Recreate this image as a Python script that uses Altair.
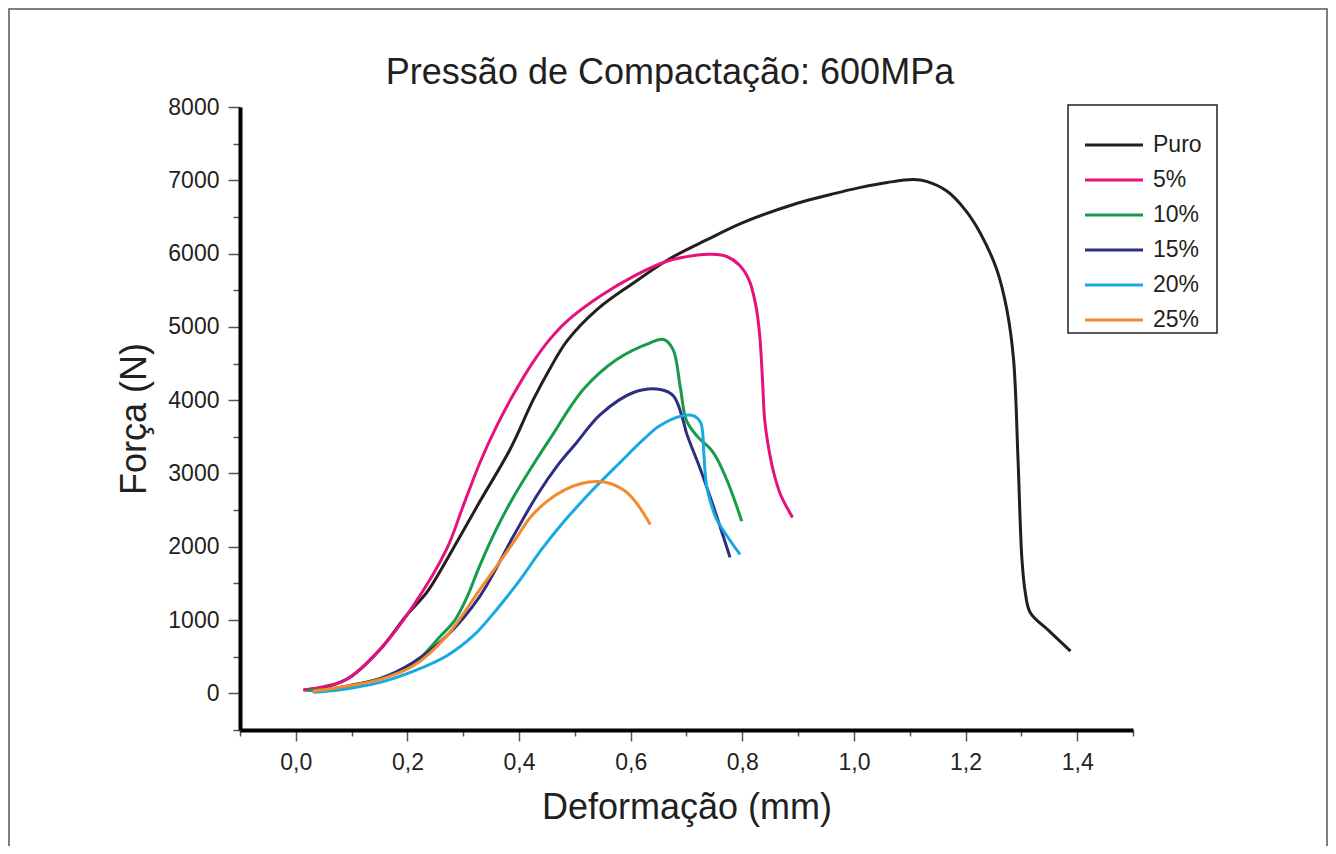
import altair as alt
import pandas as pd

# ---- data ----
series_names = ["Puro", "5%", "10%", "15%", "20%", "25%"]
series_colors = ["#231f20", "#e5127d", "#169b4b", "#2b2e83", "#17a9e1", "#f58a2a"]
chart_title = ["Pressão de Compactação: 600MPa"]

puro_x = [0.015, 0.06, 0.10, 0.15, 0.20, 0.235, 0.28, 0.33, 0.384, 0.425, 0.456, 0.486, 0.54, 0.605,
          0.67, 0.737, 0.80, 0.90, 0.96, 1.01, 1.06, 1.106, 1.13, 1.167, 1.20, 1.226, 1.256, 1.274, 1.286,
          1.294, 1.301, 1.307, 1.316, 1.35, 1.388]
puro_y = [45, 100, 235, 590, 1080, 1380, 1950, 2620, 3330, 4000, 4440, 4810, 5240, 5600,
          5930, 6190, 6420, 6690, 6810, 6900, 6970, 7010, 6985, 6850, 6590, 6285, 5780, 5235, 4555,
          3190, 1830, 1375, 1100, 850, 577]

p5_x = [0.013, 0.05, 0.091, 0.151, 0.21, 0.27, 0.30, 0.33, 0.36, 0.39, 0.425, 0.455, 0.486, 0.545, 0.605,
        0.665, 0.72, 0.745, 0.772, 0.795, 0.812, 0.824, 0.831, 0.836, 0.84, 0.846, 0.856, 0.868, 0.89]
p5_y = [45, 90, 190, 600, 1190, 1964, 2560, 3150, 3650, 4080, 4520, 4830, 5080, 5418, 5690,
        5895, 5980, 5990, 5960, 5840, 5640, 5300, 4900, 4300, 3737, 3400, 3020, 2720, 2400]

p10_x = [0.02, 0.06, 0.10, 0.15, 0.21, 0.259, 0.285, 0.306, 0.33, 0.36, 0.39, 0.432, 0.456, 0.515, 0.575,
         0.635, 0.659, 0.676, 0.689, 0.70, 0.719, 0.748, 0.772, 0.799]
p10_y = [40, 60, 110, 200, 400, 780, 1000, 1300, 1750, 2250, 2680, 3200, 3480, 4146, 4555,
         4783, 4828, 4690, 4170, 3720, 3510, 3286, 2918, 2350]

p15_x = [0.03, 0.06, 0.10, 0.151, 0.21, 0.27, 0.33, 0.39, 0.432, 0.47, 0.503, 0.545, 0.605, 0.653,
         0.677, 0.695, 0.70, 0.725, 0.748, 0.778]
p15_y = [30, 50, 110, 200, 420, 780, 1327, 2146, 2700, 3120, 3420, 3800, 4105, 4146,
         4055, 3695, 3550, 3055, 2555, 1855]

p20_x = [0.031, 0.08, 0.151, 0.21, 0.27, 0.32, 0.36, 0.40, 0.44, 0.48, 0.53, 0.581, 0.623, 0.65,
         0.69, 0.712, 0.725, 0.729, 0.731, 0.736, 0.745, 0.754, 0.775, 0.796]
p20_y = [15, 50, 150, 300, 510, 800, 1145, 1530, 1960, 2340, 2760, 3150, 3464, 3640,
         3782, 3790, 3700, 3550, 3286, 2828, 2560, 2373, 2120, 1895]

p25_x = [0.03, 0.06, 0.10, 0.151, 0.21, 0.27, 0.33, 0.39, 0.42, 0.45, 0.48, 0.51, 0.54, 0.565,
         0.59, 0.61, 0.635]
p25_y = [30, 60, 110, 190, 372, 780, 1418, 2060, 2400, 2620, 2770, 2860, 2890, 2860,
         2760, 2600, 2305]

x_ticks = [round(-0.1 + 0.1 * i, 1) for i in range(17)]
y_ticks = [-500 + 500 * i for i in range(18)]

# ---- build table ----
rows = []
for name, xs, ys in zip(series_names,
                        [puro_x, p5_x, p10_x, p15_x, p20_x, p25_x],
                        [puro_y, p5_y, p10_y, p15_y, p20_y, p25_y]):
    for i, (xv, yv) in enumerate(zip(xs, ys)):
        rows.append({"series": name, "x": xv, "y": yv, "i": i})
df = pd.DataFrame(rows)
legend_df = pd.DataFrame({"series": series_names})
title_df = pd.DataFrame({"t": chart_title})

FONT = "Liberation Sans"
TXT = "#231f20"

color = alt.Color("series:N", scale=alt.Scale(domain=series_names, range=series_colors), legend=None)

lines = alt.Chart(df).mark_line(strokeWidth=3, interpolate="catmull-rom").encode(
    x=alt.X("x:Q", scale=alt.Scale(domain=[-0.1, 1.5], nice=False, zero=False),
            axis=alt.Axis(
                title="Deformação (mm)", values=x_ticks, grid=False,
                labelExpr="round(datum.value*10) % 2 == 0 ? replace(format(datum.value, '.1f'), '.', ',') : ''",
                tickSize={"condition": {"test": "round(datum.value*10) % 2 != 0", "value": 6}, "value": 11},
                labelOverlap=False, labelPadding=10, labelFontSize=23, labelFont=FONT, labelColor=TXT,
                domainColor="#000000", domainWidth=4, tickColor="#555555", tickWidth=1.5,
                titleFontSize=36, titleFont=FONT, titleFontWeight="normal", titleColor=TXT,
                titlePadding=16)),
    y=alt.Y("y:Q", scale=alt.Scale(domain=[-500, 8000], nice=False, zero=False),
            axis=alt.Axis(
                title="Força (N)", values=y_ticks, grid=False,
                labelExpr="datum.value % 1000 == 0 ? format(datum.value, 'd') : ''",
                tickSize={"condition": {"test": "datum.value % 1000 != 0", "value": 7}, "value": 12},
                labelOverlap=False, labelPadding=9, labelFontSize=23, labelFont=FONT, labelColor=TXT,
                domainColor="#000000", domainWidth=4, tickColor="#555555", tickWidth=1.5,
                titleFontSize=36, titleFont=FONT, titleFontWeight="normal", titleColor=TXT,
                titlePadding=14)),
    color=color,
    order="i:Q",
)

frame_df = pd.DataFrame({"k": [0]})
outer_frame = alt.Chart(frame_df).mark_rect(fill=None, stroke="#555555", strokeWidth=1.5).encode(
    x=alt.value(-231), x2=alt.value(1087), y=alt.value(-98), y2=alt.value(780))

title_mark = alt.Chart(title_df).mark_text(align="center", baseline="alphabetic", fontSize=36,
                                           font=FONT, color=TXT).encode(
    x=alt.value(430), y=alt.value(-23), text="t:N")

legend_box = alt.Chart(frame_df).mark_rect(fill="white", stroke="#231f20", strokeWidth=1.5).encode(
    x=alt.value(828), x2=alt.value(977), y=alt.value(-2), y2=alt.value(226))

ly = alt.Y("series:N", scale=alt.Scale(type="point", domain=series_names, range=[38, 213], padding=0),
           axis=None)
legend_lines = alt.Chart(legend_df).mark_rule(strokeWidth=3).encode(
    x=alt.value(845), x2=alt.value(903), y=ly, color=color)
legend_text = alt.Chart(legend_df).mark_text(align="left", baseline="middle", fontSize=23,
                                             font=FONT, color=TXT).encode(
    x=alt.value(913), y=ly, text="series:N")

chart = alt.layer(outer_frame, title_mark, lines, legend_box, legend_lines, legend_text).resolve_scale(
    y="independent", color="shared"
).properties(
    width=893, height=623,
    autosize=alt.AutoSizeParams(type="none"),
    padding={"left": 232, "top": 99, "right": 195, "bottom": 116},
).configure_view(stroke=None)

chart.save("out.html", embed_options={"renderer": "svg", "actions": False})
